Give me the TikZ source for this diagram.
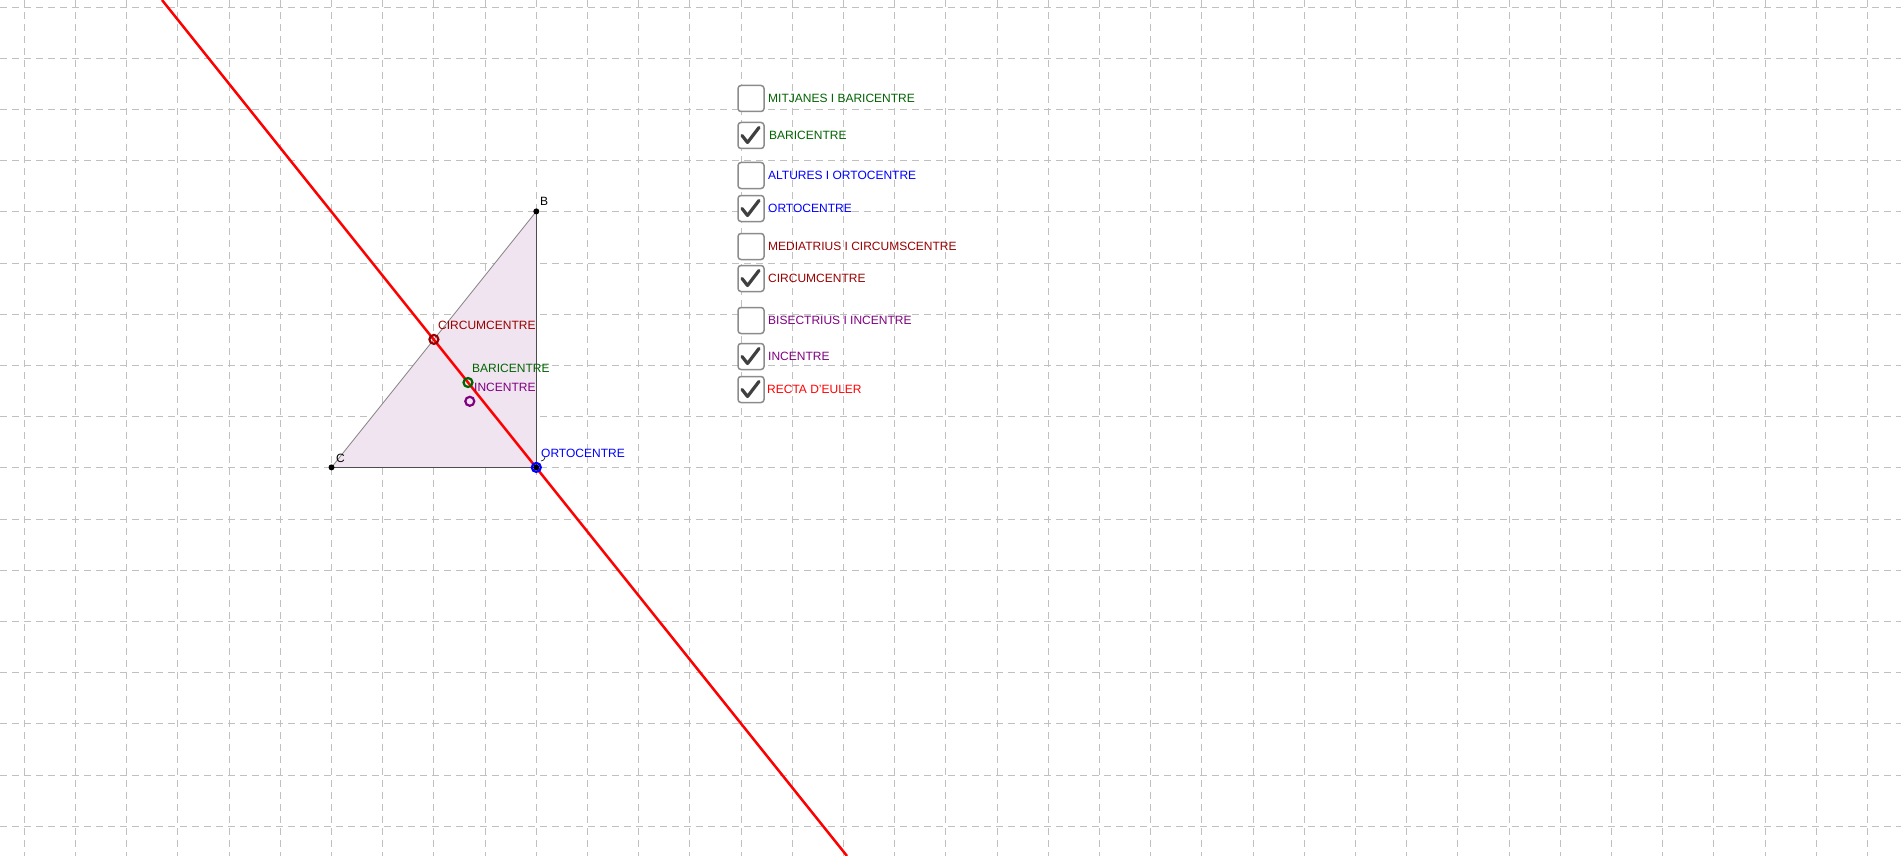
\documentclass[tikz,border=0pt]{standalone}
\usepackage{fontspec}
\setmainfont{Liberation Sans}
\definecolor{cgreen}{RGB}{0,100,0}
\definecolor{cblue}{RGB}{0,0,255}
\definecolor{cmaroon}{RGB}{153,0,0}
\definecolor{cpurple}{RGB}{128,0,128}
\definecolor{cfill}{RGB}{240,228,240}
\definecolor{cgrid}{RGB}{192,192,192}
\begin{document}
\begin{tikzpicture}[x=1pt,y=-1pt,
  lbl/.style={anchor=west,inner sep=0pt,font=\fontsize{12}{14}\selectfont},
  cbox/.style={draw=gray!90,line width=1.5pt,rounded corners=3pt,minimum size=26pt,inner sep=0pt},
  pt/.style={circle,fill=black,inner sep=0pt,minimum size=6pt},
  mk/.style={circle,draw,line width=2.2pt,inner sep=0pt,minimum size=9pt}]
\useasboundingbox (0,0) rectangle (1901,856);
\fill[white] (0,0) rectangle (1901,856);
\foreach \i in {0,...,36} \draw[cgrid,dash pattern=on 7pt off 5pt,line width=0.9pt] (24.3+51.2*\i,0) -- (24.3+51.2*\i,856);
\foreach \j in {0,...,16} \draw[cgrid,dash pattern=on 7pt off 5pt,line width=0.9pt] (0,7+51.2*\j) -- (1901,7+51.2*\j);
% triangle
\coordinate (C) at (331.5,467.4);
\coordinate (A) at (536.3,467.4);
\coordinate (B) at (536.3,211.4);
\fill[cfill] (C) -- (A) -- (B) -- cycle;
\draw[gray,line width=0.8pt] (C) -- (B);
\draw[black!70,line width=0.8pt] (B) -- (A) -- (C);
\draw[black,line width=0.6pt] (541,461) arc (90:0:4);
% Euler line
\coordinate (E1) at (162,0);
\coordinate (E2) at (847,856);
\draw[red,line width=2.5pt] (E1) -- (E2);
\node[pt] (nB) at (B) {};
\node[pt] (nC) at (C) {};
\node[lbl] at (540,201) {B};
\node[lbl] at (336,458) {C};
\node[mk,draw=cmaroon] (O) at (433.9,339.4) {};
\node[mk,draw=cgreen] (G) at (468,382.5) {};
\node[mk,draw=cpurple] (I) at (469.8,401.3) {};
\node[pt] (nA) at (A) {};
\node[mk,draw=cblue] (H) at (A) {};
\node[lbl,text=cmaroon] at (438,325) {CIRCUMCENTRE};
\node[lbl,text=cgreen] at (472,368) {BARICENTRE};
\node[lbl,text=cpurple] at (474,387.5) {INCENTRE};
\node[lbl,text=cblue] at (541,453.5) {ORTOCENTRE};
% checkboxes
\foreach \y/\c/\t/\txt/\col in {98.5/0/768/MITJANES I BARICENTRE/cgreen,
  135.5/1/769/BARICENTRE/cgreen,
  175.5/0/768/ALTURES I ORTOCENTRE/cblue,
  208.5/1/768/ORTOCENTRE/cblue,
  246.5/0/768/MEDIATRIUS I CIRCUMSCENTRE/cmaroon,
  278.5/1/768/CIRCUMCENTRE/cmaroon,
  320.5/0/768/BISECTRIUS I INCENTRE/cpurple,
  356.5/1/768/INCENTRE/cpurple,
  389.5/1/767/RECTA D'EULER/red} {
  \node[cbox,fill=white] (b\y) at (751,\y) {};
  \ifnum\c=1
    \draw[black!75,line width=3.2pt,line cap=round,line join=round] (742,\y) -- (747.5,\y+7) -- (759,\y-8);
  \fi
  \node[lbl,text=\col] (t\y) at (\t,\y) {\txt};
}
\end{tikzpicture}
\end{document}
